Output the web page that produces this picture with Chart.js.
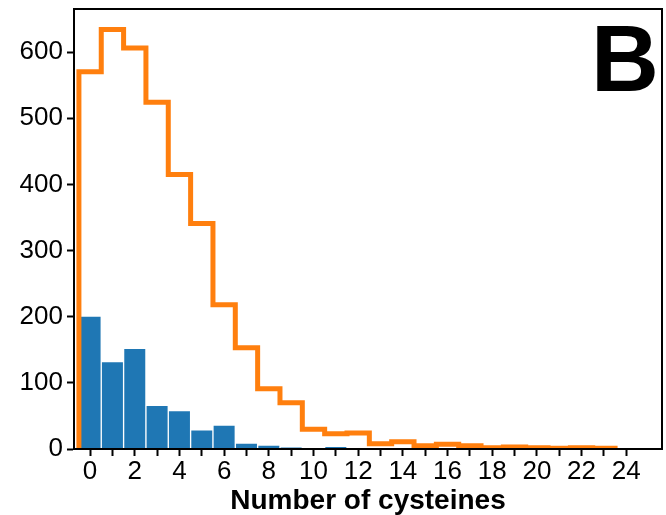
<!DOCTYPE html>
<html>
<head>
<meta charset="utf-8">
<script src="https://cdn.jsdelivr.net/npm/chart.js@4.4.0/dist/chart.umd.min.js"></script>
<style>
  html, body { margin: 0; padding: 0; background: #fff; }
  #wrap { position: relative; width: 666px; height: 515px; }
  #panel {
    position: absolute; left: 591px; top: 12px;
    font: bold 94px "Liberation Sans", Arial, sans-serif;
    line-height: 1; color: #000;
  }
</style>
</head>
<body>
<div id="wrap">
  <canvas id="histChart"></canvas>
  <div id="panel">B</div>
</div>
<script>
"use strict";

// bins (number of cysteines), one per integer
const bins = [0, 1, 2, 3, 4, 5, 6, 7, 8, 9, 10, 11, 12, 13, 14, 15, 16, 17, 18, 19, 20, 21, 22, 23];
// orange step outline
const stepCounts = [570, 634, 606, 524, 415, 341, 218, 153, 91, 70, 30, 23, 24, 8, 11, 5, 7, 5, 2, 3, 2, 1, 2, 1];
// blue filled bars (bins 0..11)
const barCounts = [201, 132, 152, 66, 58, 29, 36, 9, 6, 3, 0, 4];

const xTicks = [0, 1, 2, 3, 4, 5, 6, 7, 8, 9, 10, 11, 12, 13, 14, 15, 16, 17, 18, 19, 20, 21, 22, 23, 24];
const yTicks = [0, 100, 200, 300, 400, 500, 600];

// step outline: up at the left edge of the first bin, down at the right edge of the last
const stepPoints = [{ x: bins[0] - 0.5, y: 0 }];
bins.forEach((b, i) => stepPoints.push({ x: b - 0.5, y: stepCounts[i] }));
stepPoints.push({ x: bins[bins.length - 1] + 0.5, y: 0 });

const barPoints = barCounts.map((v, i) => ({ x: bins[i], y: v }));

const FONT = '"Liberation Sans", Arial, sans-serif';

// box round the plot area (all four spines)
const frame = {
  id: "frame",
  afterDatasetsDraw(chart) {
    const { ctx, chartArea: a } = chart;
    ctx.save();
    ctx.strokeStyle = "#000";
    ctx.lineWidth = 2;
    ctx.strokeRect(a.left, a.top, a.right - a.left, a.bottom - a.top);
    ctx.restore();
  },
};

new Chart(document.getElementById("histChart"), {
  type: "bar",
  data: {
    datasets: [
      {
        type: "line",
        data: stepPoints,
        borderColor: "#ff7f0e",
        borderWidth: 5,
        stepped: "before",
        pointRadius: 0,
        fill: false,
        borderJoinStyle: "miter",
        borderCapStyle: "butt",
        clip: 0,
        order: 0,
      },
      {
        data: barPoints,
        backgroundColor: "#1f77b4",
        borderColor: "#ffffff",
        borderWidth: 1,
        borderSkipped: "bottom",
        barPercentage: 1,
        categoryPercentage: 1,
        order: 1,
      },
    ],
  },
  options: {
    responsive: true,
    maintainAspectRatio: false,
    animation: false,
    layout: { padding: { top: 9, right: 4, left: 0, bottom: 0 } },
    plugins: { legend: { display: false }, tooltip: { enabled: false } },
    scales: {
      x: {
        type: "linear",
        min: -0.72,
        max: 25.6,
        offset: false,
        afterBuildTicks: (s) => { s.ticks = xTicks.map((v) => ({ value: v })); },
        afterFit: (s) => { s.height = 66; s.paddingLeft = 0; s.paddingRight = 0; },
        ticks: {
          color: "#000",
          font: { family: FONT, size: 26 },
          padding: 0,
          maxRotation: 0,
          autoSkip: false,
          callback: (v) => (v % 2 === 0 ? String(v) : ""),
        },
        grid: { display: true, drawOnChartArea: false, offset: false, tickLength: 7, tickWidth: 2, tickColor: "#000" },
        border: { display: true, color: "#000", width: 2 },
        title: {
          display: true,
          text: "Number of cysteines",
          color: "#000",
          font: { family: FONT, size: 28, weight: "bold", lineHeight: 1 },
          padding: { top: 0, bottom: 0 },
        },
      },
      y: {
        min: 0,
        max: 665,
        afterBuildTicks: (s) => { s.ticks = yTicks.map((v) => ({ value: v })); },
        afterFit: (s) => { s.width = 74; s.paddingTop = 0; s.paddingBottom = 0; },
        ticks: { color: "#000", font: { family: FONT, size: 26 }, padding: 4 },
        grid: { display: true, drawOnChartArea: false, tickLength: 7, tickWidth: 2, tickColor: "#000" },
        border: { display: true, color: "#000", width: 2 },
      },
    },
  },
  plugins: [frame],
});
</script>
</body>
</html>
